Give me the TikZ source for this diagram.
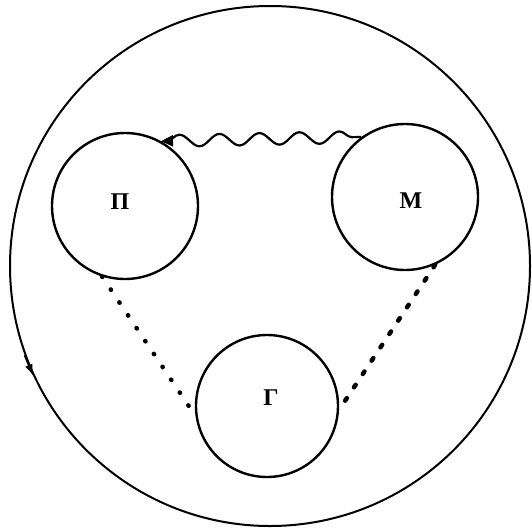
\documentclass[tikz,border=0pt]{standalone}
\usepackage{fontspec}
\newfontfamily\cyr{Liberation Serif}
\usetikzlibrary{arrows.meta,decorations.pathmorphing}
\begin{document}
\begin{tikzpicture}[x=1pt,y=-1pt,
  ring/.style={circle,draw,line width=2.4pt,inner sep=0pt,minimum size=#1},
  lab/.style={font=\cyr\fontsize{24}{26}\selectfont\bfseries},
  dotline/.style={line width=4.5pt,dash pattern=on 0.5pt off 15pt,line cap=round},
  dashline/.style={line width=4.5pt,dash pattern=on 3pt off 13pt,line cap=round},
  wave/.style={line width=2.2pt,decorate,
    decoration={snake,segment length=40pt,amplitude=6pt,pre length=6pt,post length=3pt}}]
\useasboundingbox (0,0) rectangle (532,527);
\node[circle,draw,line width=2pt,inner sep=0pt,minimum size=520pt] (big) at (270,266) {};
\node[ring=146pt] (P) at (125,206) {};
\node[ring=146pt] (M) at (405,197) {};
\node[ring=142pt] (G) at (267,406) {};
\node[lab] (lP) at (120,202) {П};
\node[lab] (lM) at (411,201) {М};
\node[lab] (lG) at (271,398) {Г};
\draw[wave,{Triangle[length=12pt,width=11pt]}-] (P.61) -- (M.126);
\draw[dotline] (P.252) -- (G.188);
\draw[dashline] (M.294) -- (G.357);
\draw[line width=2pt,-{Latex[length=12pt,width=8pt]}] (big.200) -- (big.205);
\end{tikzpicture}
\end{document}
